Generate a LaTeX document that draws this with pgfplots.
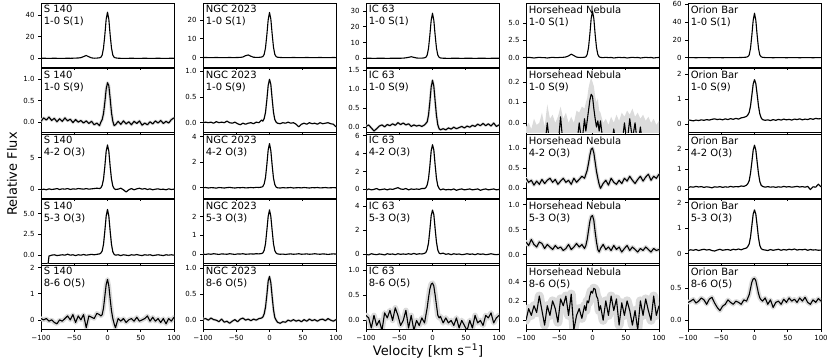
\documentclass[border=0pt]{standalone}
\usepackage{fontspec}
\setmainfont{DejaVu Sans}
\usepackage{pgfplots}
\usepackage{pgfplotstable}
\pgfplotsset{compat=1.18}

% columns: a = 1-0 S(1), b = 1-0 S(9), c = 4-2 O(3), d = 5-3 O(3), e = 8-6 O(5)
\pgfplotstableread{
v a b c d e
-100 0.0 0.02 -0.1 -3 0.05
-96 0.1 0.10 0.0 -3 0.0
-92 0.0 0.05 -0.1 -3 0.05
-88 -0.1 0.12 0.05 -0.1 -0.05
-84 0.0 0.04 -0.05 0.0 0.0
-80 0.1 0.09 0.0 0.05 -0.1
-76 0.0 0.01 0.1 -0.05 -0.15
-72 0.0 0.08 -0.05 0.0 0.0
-68 -0.1 0.02 0.05 0.05 -0.05
-64 0.0 0.10 0.0 0.0 0.05
-60 0.1 0.03 0.1 0.12 0.15
-56 0.0 0.07 -0.05 0.0 0.0
-52 0.1 -0.01 0.05 0.05 0.2
-48 0.2 0.06 0.0 -0.05 -0.1
-44 0.3 0.0 0.1 0.05 0.15
-40 0.6 0.04 0.05 0.0 0.0
-36 1.6 -0.02 0.0 0.08 0.2
-32 2.6 0.03 0.1 0.0 -0.3
-28 1.4 -0.03 0.0 0.05 0.15
-24 0.4 0.02 0.05 0.1 0.1
-20 0.1 -0.06 0.1 0.05 0.05
-16 0.2 -0.02 0.15 0.1 0.25
-12 0.5 -0.08 0.1 0.15 0.2
-10 0.9 0.0 0.2 0.25 0.15
-8 3.0 0.06 0.6 0.5 0.2
-6 9.5 0.20 1.6 1.3 0.45
-4 21.5 0.46 3.6 2.9 0.9
-2 36.0 0.77 6.0 4.7 1.35
0 42.5 0.92 7.0 5.5 1.55
2 36.0 0.85 6.0 4.7 1.3
4 21.5 0.55 3.6 2.9 0.8
6 9.5 0.22 1.6 1.3 0.35
8 3.0 0.02 0.5 0.4 0.05
10 0.9 -0.08 0.1 0.1 -0.15
12 0.4 -0.06 -0.05 0.0 -0.3
16 0.1 0.02 0.0 0.05 0.05
20 0.0 -0.05 0.15 -0.05 -0.05
24 0.0 0.03 -0.1 0.05 0.05
28 -0.1 -0.04 -0.45 0.0 -0.1
32 0.0 0.01 -0.1 -0.05 0.0
36 0.1 -0.06 0.1 0.05 0.05
40 0.0 0.02 -0.1 0.0 -0.05
44 0.0 -0.03 0.05 0.08 0.1
48 -0.1 0.03 0.15 0.0 -0.05
52 0.0 -0.07 0.0 -0.05 0.0
56 0.1 -0.02 0.1 0.05 0.05
60 0.0 -0.06 -0.05 0.0 0.15
64 0.0 0.01 0.05 0.05 -0.05
68 -0.1 -0.04 -0.1 -0.05 0.1
72 0.0 0.03 0.0 0.0 -0.05
76 0.1 -0.02 0.05 0.05 0.05
80 0.0 0.04 -0.05 0.0 -0.1
84 0.0 -0.03 0.0 -0.05 0.05
88 -0.1 0.02 -0.1 0.05 -0.15
92 0.0 -0.02 0.05 0.0 0.05
96 0.1 0.06 -0.05 0.05 -0.05
100 0.0 0.10 0.0 0.0 0.1
}\tabSA

\pgfplotstableread{
v a b c d e
-100 0.0 0.0 0.0 0.0 0.02
-96 0.05 0.01 0.02 -0.02 0.03
-92 0.0 0.0 -0.02 0.01 0.0
-88 -0.05 0.01 0.01 -0.01 0.04
-84 0.0 -0.01 0.0 0.02 0.01
-80 0.05 0.02 -0.03 0.0 0.0
-76 0.0 0.0 0.02 -0.02 -0.03
-72 0.0 0.01 0.0 0.01 0.02
-68 -0.05 0.0 -0.02 0.0 -0.04
-64 0.0 0.03 0.01 -0.01 -0.02
-60 0.05 0.0 0.03 0.02 -0.06
-56 0.0 -0.01 0.0 0.0 -0.02
-52 0.0 0.01 -0.02 -0.02 0.01
-48 0.05 -0.02 0.01 0.01 -0.03
-44 0.1 -0.04 0.0 0.0 0.02
-40 0.3 -0.01 0.02 0.02 0.04
-36 1.0 -0.03 -0.01 -0.01 0.0
-32 1.4 -0.01 0.0 0.0 0.02
-28 0.7 0.0 0.02 0.01 -0.01
-24 0.2 -0.02 0.0 0.0 0.02
-20 0.1 0.01 0.03 0.02 0.0
-16 0.1 0.0 0.02 0.01 0.03
-12 0.3 0.05 0.05 0.03 0.04
-10 0.5 0.03 0.1 0.06 0.06
-8 1.7 0.08 0.3 0.2 0.12
-6 5.2 0.2 0.8 0.55 0.25
-4 12.0 0.44 1.8 1.25 0.48
-2 20.0 0.72 2.95 2.0 0.75
0 24.0 0.84 3.45 2.35 0.84
2 20.5 0.74 2.9 2.0 0.72
4 12.5 0.46 1.75 1.25 0.45
6 5.5 0.2 0.75 0.55 0.2
8 1.7 0.06 0.25 0.18 0.05
10 0.5 0.01 0.05 0.05 0.0
12 0.2 -0.01 0.0 0.01 -0.04
16 0.05 -0.02 -0.02 -0.01 -0.06
20 0.0 0.0 0.01 0.0 -0.03
24 0.0 -0.01 -0.01 -0.02 -0.04
28 -0.05 0.01 0.0 0.0 0.0
32 0.0 -0.01 0.02 0.01 -0.02
36 0.05 0.0 -0.02 -0.01 0.01
40 0.0 -0.03 0.0 0.0 -0.02
44 0.0 -0.08 0.01 0.02 0.0
48 -0.05 -0.03 -0.01 -0.01 -0.03
52 0.0 -0.01 0.02 0.0 0.01
56 0.05 -0.03 0.0 0.01 -0.02
60 0.0 0.0 -0.02 -0.01 0.02
64 0.0 -0.02 0.01 0.0 -0.01
68 -0.05 -0.01 0.0 0.02 0.01
72 0.0 -0.03 0.02 0.0 -0.02
76 0.05 0.0 -0.01 -0.01 0.01
80 0.0 -0.02 0.0 0.01 0.02
84 0.0 -0.01 0.02 0.0 -0.01
88 -0.05 0.0 -0.01 -0.02 0.03
92 0.0 -0.02 0.0 0.0 0.0
96 0.05 -0.03 0.01 0.01 -0.02
100 0.0 -0.08 0.0 0.0 0.01
}\tabNGC

\pgfplotstableread{
v a b c d e
-100 0.0 0.02 -0.1 0.0 0.1
-96 0.05 0.06 0.05 -0.05 0.05
-92 0.0 -0.02 -0.05 0.05 -0.15
-88 -0.05 -0.1 0.0 0.0 0.1
-84 0.0 -0.04 0.1 -0.03 -0.1
-80 0.05 0.03 -0.05 0.03 0.0
-76 0.0 0.06 0.0 0.0 -0.2
-72 0.0 0.01 0.05 -0.05 0.15
-68 -0.05 0.07 -0.05 0.05 0.05
-64 0.0 0.04 0.05 0.0 0.2
-60 0.05 0.09 0.0 0.03 0.0
-56 0.0 0.05 0.1 -0.03 0.25
-52 0.0 0.12 0.2 0.05 0.1
-48 0.05 0.07 0.05 0.0 -0.1
-44 0.1 0.11 0.0 0.03 0.0
-40 0.3 0.06 0.1 0.0 0.2
-36 0.6 0.09 -0.05 0.05 -0.15
-32 1.0 0.02 0.05 0.0 0.1
-28 0.6 0.06 0.0 0.08 -0.2
-24 0.2 0.03 0.05 0.0 0.0
-20 0.1 0.05 0.0 0.05 -0.1
-16 0.1 0.02 0.1 0.03 0.05
-12 0.3 0.06 0.1 0.08 -0.05
-10 0.6 0.1 0.2 0.15 0.1
-8 2.0 0.14 0.5 0.4 0.25
-6 6.3 0.32 1.2 0.95 0.45
-4 14.5 0.66 2.6 2.0 0.62
-2 24.0 1.06 4.3 3.2 0.72
0 28.5 1.24 5.0 3.67 0.74
2 24.0 1.08 4.4 3.3 0.68
4 14.5 0.68 2.7 2.1 0.5
6 6.3 0.3 1.2 1.0 0.3
8 2.0 0.06 0.4 0.35 0.1
10 0.6 -0.04 0.1 0.1 0.05
12 0.2 -0.07 -0.05 0.05 0.08
16 0.05 -0.04 0.05 0.1 -0.05
20 0.0 -0.07 -0.05 0.0 0.05
24 -0.05 -0.02 0.0 0.05 -0.05
28 0.0 -0.05 -0.05 -0.03 0.0
32 0.05 0.0 0.05 0.05 -0.1
36 0.0 -0.04 -0.1 0.0 0.05
40 0.0 -0.01 0.0 0.03 -0.15
44 -0.05 0.02 0.05 -0.03 0.0
48 0.0 -0.02 -0.05 0.0 -0.1
52 0.05 0.03 0.0 0.05 -0.2
56 0.0 0.0 0.05 0.0 0.0
60 0.0 0.05 -0.05 0.03 -0.15
64 -0.05 0.02 0.0 -0.03 0.1
68 0.0 0.08 0.05 0.05 -0.05
72 0.05 0.04 -0.1 0.0 0.0
76 0.0 0.1 0.0 0.03 -0.1
80 0.0 0.04 0.05 -0.03 0.1
84 -0.05 0.09 -0.05 0.0 0.05
88 0.0 0.03 0.0 0.05 0.15
92 0.05 0.11 0.05 0.0 -0.05
96 0.0 0.02 -0.05 -0.03 0.05
100 0.0 0.06 0.0 0.0 0.1
}\tabIC

\pgfplotstableread{
v a b c d e
-100 0.0 -0.12 0.25 0.25 0.0
-96 0.05 -0.12 0.15 0.18 0.12
-92 0.0 -0.12 0.2 0.3 0.05
-88 -0.05 -0.12 0.08 0.2 0.15
-84 0.0 -0.12 0.18 0.15 0.08
-80 0.05 -0.12 0.1 0.25 0.25
-76 0.0 -0.12 0.22 0.22 0.1
-72 0.0 -0.12 0.12 0.12 -0.05
-68 -0.05 0.0 0.2 0.2 0.15
-64 0.0 -0.12 0.25 0.15 0.05
-60 0.05 -0.12 0.15 0.1 0.2
-56 0.0 -0.12 0.22 0.18 0.12
-52 0.0 -0.12 0.1 0.12 -0.02
-48 0.05 0.03 0.18 0.15 0.22
-44 0.05 -0.12 0.25 0.08 0.15
-40 0.1 -0.12 0.15 0.12 0.25
-36 0.25 -0.12 0.2 0.2 0.05
-32 0.5 -0.12 0.1 0.1 0.27
-28 0.3 -0.12 0.25 0.15 -0.1
-24 0.08 -0.12 0.15 0.22 0.05
-20 0.03 0.0 0.22 0.15 0.12
-16 0.03 -0.1 0.3 0.2 0.02
-12 0.06 0.02 0.25 0.12 0.15
-10 0.12 -0.04 0.35 0.18 0.1
-8 0.46 0.01 0.45 0.3 0.2
-6 1.45 0.06 0.62 0.48 0.18
-4 3.35 0.11 0.82 0.66 0.25
-2 5.65 0.14 0.97 0.76 0.3
0 6.7 0.13 1.0 0.78 0.28
2 5.65 0.07 0.88 0.68 0.33
4 3.35 0.02 0.65 0.45 0.32
6 1.45 -0.02 0.42 0.25 0.25
8 0.46 0.01 0.25 0.1 0.22
10 0.12 -0.04 0.1 0.05 0.1
12 0.04 0.01 0.0 0.12 0.15
16 0.0 -0.1 0.12 0.2 0.0
20 0.05 -0.12 0.2 0.1 0.2
24 0.0 -0.12 0.08 0.15 0.05
28 0.03 -0.12 0.25 0.08 0.25
32 -0.05 -0.03 0.15 0.18 0.1
36 0.0 -0.12 0.1 0.1 0.22
40 0.05 -0.12 0.2 0.15 -0.05
44 0.0 -0.12 0.12 0.05 0.18
48 0.03 0.0 0.25 0.12 0.05
52 -0.05 -0.1 0.18 0.18 0.2
56 0.0 0.02 0.3 0.08 0.1
60 0.05 -0.08 0.2 0.15 -0.05
64 0.0 0.0 0.12 0.1 0.1
68 0.03 -0.12 0.22 0.05 -0.1
72 -0.05 -0.02 0.3 0.12 0.2
76 0.0 -0.12 0.18 0.08 0.05
80 0.05 -0.12 0.28 0.15 0.22
84 0.0 -0.12 0.35 0.1 0.1
88 0.03 -0.12 0.2 0.05 0.0
92 -0.05 -0.12 0.3 0.12 0.25
96 0.0 -0.12 0.25 0.08 0.05
100 0.03 -0.12 0.35 0.1 0.15
}\tabHH

% Horsehead 1-0 S(9): upper edge of the uncertainty band, closed along the bottom
\pgfplotstableread{
v u
-100 -0.02
-96 0.0
-92 -0.03
-88 0.02
-84 -0.01
-80 0.0
-76 0.05
-72 -0.02
-68 0.09
-64 0.02
-60 0.04
-56 0.0
-52 0.03
-48 0.08
-44 0.02
-40 0.05
-36 0.0
-32 0.03
-28 0.0
-24 0.06
-20 0.05
-16 0.08
-12 0.07
-10 0.1
-8 0.12
-6 0.17
-4 0.2
-2 0.22
0 0.2
2 0.18
4 0.13
6 0.1
8 0.12
10 0.06
12 0.05
16 0.0
20 0.02
24 -0.01
28 0.03
32 0.0
36 0.04
40 0.01
44 0.05
48 0.03
52 0.06
56 0.04
60 0.07
64 0.03
68 0.05
72 0.02
76 0.04
80 0.01
84 0.03
88 0.0
92 0.02
96 -0.01
100 0.01
100 -0.2
-100 -0.2
}\tabHHband

\pgfplotstableread{
v a b c d e
-100 0.0 0.16 0.08 0.12 0.28
-96 0.1 0.14 0.12 0.15 0.3
-92 0.0 0.12 0.1 0.13 0.33
-88 -0.1 0.15 0.14 0.16 0.27
-84 0.0 0.13 0.11 0.12 0.3
-80 0.1 0.16 0.13 0.15 0.35
-76 0.0 0.14 0.09 0.17 0.32
-72 0.0 0.17 0.12 0.14 0.25
-68 -0.1 0.15 0.1 0.16 0.33
-64 0.0 0.18 0.07 0.12 0.36
-60 0.1 0.2 0.12 0.1 0.27
-56 0.0 0.17 0.1 0.14 0.2
-52 0.0 0.19 0.13 0.17 0.15
-48 -0.1 0.16 0.09 0.13 0.22
-44 0.0 0.2 0.12 0.15 0.25
-40 0.1 0.17 0.1 0.16 0.32
-36 0.0 0.21 0.14 0.13 0.28
-32 0.0 0.18 0.11 0.17 0.25
-28 0.1 0.22 0.13 0.15 0.3
-24 0.1 0.19 0.12 0.18 0.28
-20 0.2 0.24 0.16 0.15 0.25
-16 0.3 0.26 0.14 0.19 0.32
-12 0.6 0.3 0.2 0.22 0.3
-10 1.2 0.36 0.28 0.28 0.35
-8 3.0 0.46 0.42 0.38 0.4
-6 10.5 0.72 0.8 0.65 0.5
-4 25.0 1.15 1.35 1.1 0.6
-2 42.0 1.6 1.95 1.55 0.65
0 50.0 1.78 2.2 1.72 0.66
2 42.0 1.62 1.95 1.55 0.62
4 25.0 1.18 1.35 1.1 0.52
6 10.5 0.72 0.78 0.62 0.42
8 3.0 0.4 0.38 0.32 0.35
10 1.0 0.24 0.2 0.2 0.32
12 0.4 0.17 0.14 0.16 0.3
16 0.1 0.14 0.1 0.14 0.35
20 0.0 0.16 0.13 0.12 0.25
24 0.0 0.13 0.1 0.16 0.32
28 -0.1 0.17 0.12 0.13 0.2
32 0.0 0.14 0.09 0.15 0.28
36 0.1 0.18 0.12 0.17 0.3
40 0.0 0.15 0.1 0.13 0.25
44 0.0 0.19 0.14 0.16 0.33
48 -0.1 0.16 0.11 0.14 0.28
52 0.0 0.18 0.13 0.17 0.35
56 0.1 0.15 0.1 0.15 0.3
60 0.0 0.19 0.12 0.18 0.33
64 0.0 0.17 0.14 0.14 0.28
68 -0.1 0.2 0.11 0.16 0.35
72 0.0 0.16 0.13 0.15 0.3
76 0.1 0.19 0.1 0.17 0.36
80 0.0 0.17 0.14 0.13 0.28
84 0.0 0.21 -0.02 0.16 0.25
88 -0.1 0.18 0.12 0.14 0.32
92 0.0 0.22 0.1 0.15 0.28
96 0.1 0.2 0.25 0.13 0.34
100 0.0 0.21 0.12 0.14 0.3
}\tabOB

\pgfplotsset{
  spec/.style={
    scale only axis, width=133pt, height=64pt, anchor=north west,
    xmin=-100, xmax=100, xtick={-100,-50,0,50,100}, xticklabels={,,,,},
    tick align=outside, xtick pos=bottom, ytick pos=left,
    major tick length=3pt, tick style={black, line width=0.6pt},
    axis line style={line width=0.8pt},
    tick label style={font=\fontsize{7}{8}\selectfont},
    /pgf/number format/assume math mode=true,
  },
  lastrow/.style={xticklabels={−100,−50,0,50,100}},
  band/.style={gray!28, line join=round, line cap=round, forget plot},
  specline/.style={black, line width=1.1pt, line join=round},
}
\tikzset{ttl/.style={anchor=north west, align=left, inner sep=0pt,
    font=\fontsize{10}{12}\selectfont}}

% \panel{axis options}{table}{column}{band width}{title}
\newcommand{\panel}[5]{%
  \begin{axis}[spec,#1]
    \addplot[band, line width=#4] table[x=v,y=#3]{#2};
    \addplot[specline] table[x=v,y=#3]{#2};
    \node[ttl] at (rel axis cs:0.02,0.965) {#5};
  \end{axis}}

\begin{document}
\begin{tikzpicture}
\useasboundingbox (0,0) rectangle (830pt,363pt);

% S 140
\panel{at={(41pt,360pt)}, ymin=-8, ymax=51, ytick={0,20,40}, yticklabels={0,20,40}}{\tabSA}{a}{0.1pt}{S 140\\1-0 S(1)}
\panel{at={(41pt,294.5pt)}, ymin=-0.24, ymax=1.25, ytick={0,0.5,1}, yticklabels={0.0,0.5,1.0}}{\tabSA}{b}{3pt}{S 140\\1-0 S(9)}
\panel{at={(41pt,229pt)}, ymin=-1.4, ymax=8.75, ytick={0,5}, yticklabels={0,5}}{\tabSA}{c}{1.2pt}{S 140\\4-2 O(3)}
\panel{at={(41pt,163.5pt)}, ymin=-1.0, ymax=6.7, ytick={0,2.5,5}, yticklabels={0.0,2.5,5.0}}{\tabSA}{d}{1.2pt}{S 140\\5-3 O(3)}
\panel{at={(41pt,98pt)}, lastrow, ymin=-0.35, ymax=2.1, ytick={0,1,2}, yticklabels={0,1,2}}{\tabSA}{e}{4.5pt}{S 140\\8-6 O(5)}

% NGC 2023
\panel{at={(203pt,360pt)}, ymin=-5, ymax=29, ytick={0,10,20}, yticklabels={0,10,20}}{\tabNGC}{a}{0.1pt}{NGC 2023\\1-0 S(1)}
\panel{at={(203pt,294.5pt)}, ymin=-0.19, ymax=1.05, ytick={0,0.5,1}, yticklabels={0.0,0.5,1.0}}{\tabNGC}{b}{1.5pt}{NGC 2023\\1-0 S(9)}
\panel{at={(203pt,229pt)}, ymin=-0.8, ymax=4.2, ytick={0,2,4}, yticklabels={0,2,4}}{\tabNGC}{c}{1pt}{NGC 2023\\4-2 O(3)}
\panel{at={(203pt,163.5pt)}, ymin=-0.5, ymax=2.9, ytick={0,1,2}, yticklabels={0,1,2}}{\tabNGC}{d}{1pt}{NGC 2023\\5-3 O(3)}
\panel{at={(203pt,98pt)}, lastrow, ymin=-0.17, ymax=1.06, ytick={0,0.5,1}, yticklabels={0.0,0.5,1.0}}{\tabNGC}{e}{2.5pt}{NGC 2023\\8-6 O(5)}

% IC 63
\panel{at={(366pt,360pt)}, ymin=-5.5, ymax=35, ytick={0,10,20,30}, yticklabels={0,10,20,30}}{\tabIC}{a}{0.1pt}{IC 63\\1-0 S(1)}
\panel{at={(366pt,294.5pt)}, ymin=-0.14, ymax=1.55, ytick={0,0.5,1,1.5}, yticklabels={0.0,0.5,1.0,1.5}}{\tabIC}{b}{2.5pt}{IC 63\\1-0 S(9)}
\panel{at={(366pt,229pt)}, ymin=-0.96, ymax=6.2, ytick={0,2,4,6}, yticklabels={0,2,4,6}}{\tabIC}{c}{1.2pt}{IC 63\\4-2 O(3)}
\panel{at={(366pt,163.5pt)}, ymin=-0.76, ymax=4.55, ytick={0,2,4}, yticklabels={0,2,4}}{\tabIC}{d}{1.2pt}{IC 63\\5-3 O(3)}
\panel{at={(366pt,98pt)}, lastrow, ymin=-0.17, ymax=1.1, ytick={0,0.5,1}, yticklabels={0.0,0.5,1.0}}{\tabIC}{e}{5.5pt}{IC 63\\8-6 O(5)}

% Horsehead Nebula
\panel{at={(526pt,360pt)}, ymin=-1.35, ymax=7.9, ytick={0,2.5,5}, yticklabels={0.0,2.5,5.0}}{\tabHH}{a}{0.1pt}{Horsehead Nebula\\1-0 S(1)}
\begin{axis}[spec, at={(526pt,294.5pt)}, ymin=-0.047, ymax=0.266, ytick={0,0.1,0.2}, yticklabels={0.0,0.1,0.2}]
  \addplot[fill=gray!28, draw=none, forget plot] table[x=v,y=u]{\tabHHband} -- cycle;
  \addplot[specline] table[x=v,y=b]{\tabHH};
  \node[ttl] at (rel axis cs:0.02,0.965) {Horsehead Nebula\\1-0 S(9)};
\end{axis}
\panel{at={(526pt,229pt)}, ymin=-0.24, ymax=1.35, ytick={0,0.5,1}, yticklabels={0.0,0.5,1.0}}{\tabHH}{c}{3.5pt}{Horsehead Nebula\\4-2 O(3)}
\panel{at={(526pt,163.5pt)}, ymin=-0.18, ymax=1.1, ytick={0,0.5,1}, yticklabels={0.0,0.5,1.0}}{\tabHH}{d}{4pt}{Horsehead Nebula\\5-3 O(3)}
\panel{at={(526pt,98pt)}, lastrow, ymin=-0.09, ymax=0.57, ytick={0,0.2,0.4}, yticklabels={0.0,0.2,0.4}}{\tabHH}{e}{9pt}{Horsehead Nebula\\8-6 O(5)}

% Orion Bar
\panel{at={(688pt,360pt)}, ymin=-10.5, ymax=61.5, ytick={0,20,40,60}, yticklabels={0,20,40,60}}{\tabOB}{a}{0.1pt}{Orion Bar\\1-0 S(1)}
\panel{at={(688pt,294.5pt)}, ymin=-0.35, ymax=2.23, ytick={0,1,2}, yticklabels={0,1,2}}{\tabOB}{b}{1.2pt}{Orion Bar\\1-0 S(9)}
\panel{at={(688pt,229pt)}, ymin=-0.44, ymax=2.76, ytick={0,1,2}, yticklabels={0,1,2}}{\tabOB}{c}{1.2pt}{Orion Bar\\4-2 O(3)}
\panel{at={(688pt,163.5pt)}, ymin=-0.39, ymax=2.13, ytick={0,1,2}, yticklabels={0,1,2}}{\tabOB}{d}{1.2pt}{Orion Bar\\5-3 O(3)}
\panel{at={(688pt,98pt)}, lastrow, ymin=-0.14, ymax=0.87, ytick={0,0.5}, yticklabels={0.0,0.5}}{\tabOB}{e}{4.5pt}{Orion Bar\\8-6 O(5)}

\node[rotate=90, font=\fontsize{13}{15}\selectfont] at (12pt,189pt) {Relative Flux};
\node[font=\fontsize{13}{15}\selectfont] at (428pt,12pt) {Velocity [km s\textsuperscript{−1}]};
\end{tikzpicture}
\end{document}
